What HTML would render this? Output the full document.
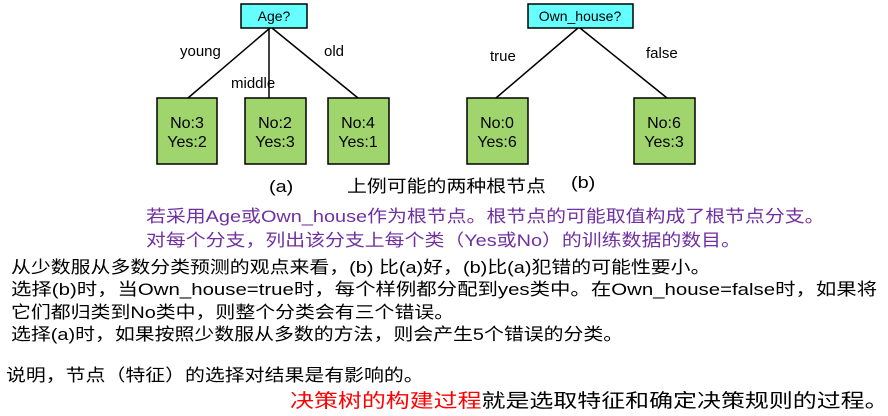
<!DOCTYPE html>
<html><head><meta charset="utf-8"><style>
body{margin:0;width:888px;height:416px;background:#fff;overflow:hidden;position:relative;font-family:"Liberation Sans","Noto Sans CJK SC",sans-serif}
.t{position:absolute;white-space:nowrap;font-size:17px;line-height:20px;color:#000;transform:scaleX(1.17);transform-origin:0 0}
.p{color:#7030a0}
</style></head><body>
<svg width="888" height="170" style="position:absolute;left:0;top:0" font-family="Liberation Sans, sans-serif">
<g stroke="#000" stroke-width="1.5">
<line x1="270" y1="28" x2="188" y2="98"/>
<line x1="269" y1="28" x2="269" y2="98"/>
<line x1="272" y1="28" x2="358" y2="98"/>
<line x1="578" y1="28" x2="496" y2="98"/>
<line x1="580" y1="28" x2="667" y2="98"/>
</g>
<g stroke="#000" stroke-width="1.5">
<rect x="241" y="4" width="66" height="24" fill="#66ffff"/>
<rect x="528" y="4" width="105" height="24" fill="#66ffff"/>
<rect x="157" y="98" width="60" height="66" fill="#a0d56e"/>
<rect x="245" y="98" width="61" height="66" fill="#a0d56e"/>
<rect x="328" y="98" width="61" height="66" fill="#a0d56e"/>
<rect x="467" y="98" width="61" height="66" fill="#a0d56e"/>
<rect x="634" y="98" width="61" height="66" fill="#a0d56e"/>
</g>
<g font-size="14" text-anchor="middle">
<text x="274" y="21">Age?</text>
<text x="580" y="21">Own_house?</text>
</g>
<g font-size="15">
<text x="180" y="56">young</text>
<text x="231" y="88">middle</text>
<text x="324" y="56">old</text>
<text x="490" y="61">true</text>
<text x="646" y="58">false</text>
</g>
<g font-size="16" text-anchor="middle">
<text x="187" y="128">No:3</text><text x="187" y="147">Yes:2</text>
<text x="275" y="128">No:2</text><text x="275" y="147">Yes:3</text>
<text x="358" y="128">No:4</text><text x="358" y="147">Yes:1</text>
<text x="497" y="128">No:0</text><text x="497" y="147">Yes:6</text>
<text x="664" y="128">No:6</text><text x="664" y="147">Yes:3</text>
</g>
</svg>
<div class="t" style="left:269px;top:177px">(a)</div>
<div class="t" style="left:347px;top:177px">上例可能的两种根节点</div>
<div class="t" style="left:571px;top:173px">(b)</div>
<div class="t p" style="left:146px;top:207px">若采用Age或Own_house作为根节点。根节点的可能取值构成了根节点分支。</div>
<div class="t p" style="left:146px;top:231px">对每个分支，列出该分支上每个类（Yes或No）的训练数据的数目。</div>
<div class="t" style="left:11px;top:258px">从少数服从多数分类预测的观点来看，(b) 比(a)好，(b)比(a)犯错的可能性要小。</div>
<div class="t" style="left:11px;top:280px;transform:scaleX(1.2)">选择(b)时，当Own_house=true时，每个样例都分配到yes类中。在Own_house=false时，如果将</div>
<div class="t" style="left:11px;top:303px">它们都归类到No类中，则整个分类会有三个错误。</div>
<div class="t" style="left:11px;top:325px">选择(a)时，如果按照少数服从多数的方法，则会产生5个错误的分类。</div>
<div class="t" style="left:6px;top:366px">说明，节点（特征）的选择对结果是有影响的。</div>
<div class="t" style="left:290px;top:391px;font-size:19px;line-height:22px;transform:scaleX(1.26)"><span style="color:#f00">决策树的构建过程</span>就是选取特征和确定决策规则的过程。</div>
</body></html>
